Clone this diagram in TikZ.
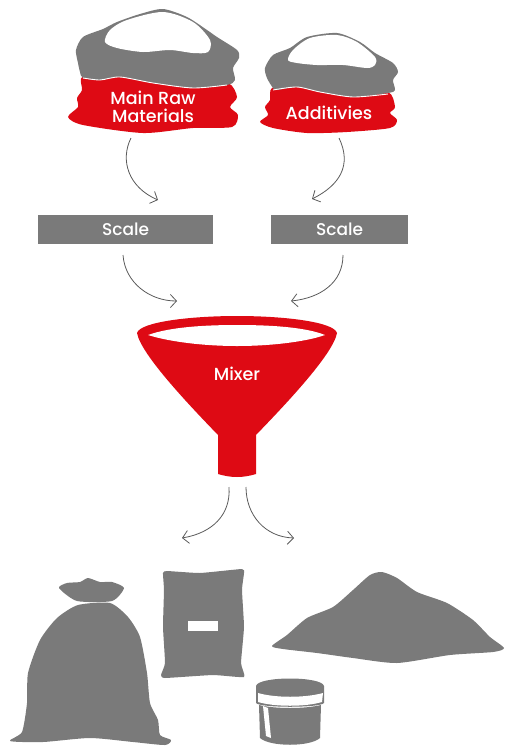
\documentclass[tikz,border=0pt]{standalone}
\usepackage{fontspec}
\setmainfont{Poppins Medium}
\usetikzlibrary{arrows.meta}
\definecolor{sackred}{HTML}{DE0A14}
\definecolor{sackgray}{HTML}{7A7A7A}
\definecolor{flowgray}{HTML}{5A5A5A}
\tikzset{
	redfill/.style={fill=sackred,draw=none},
	grayfill/.style={fill=sackgray,draw=none},
	whitefill/.style={fill=white,draw=none},
	label/.style={text=white,font=\fontsize{17.5}{18.5}\selectfont,align=center,inner sep=0pt},
	scalebox/.style={fill=sackgray,text=white,font=\fontsize{17}{18}\selectfont,minimum height=29pt,inner sep=0pt,anchor=north west},
	flow/.style={draw=flowgray,line width=0.8pt,-{Straight Barb[length=6pt,width=13pt,line width=0.8pt]}}
}
\begin{document}
\begin{tikzpicture}[x=1pt,y=-1pt]
	\useasboundingbox (0,0) rectangle (504,747);
	% big sack
	\fill [redfill] plot [smooth cycle,tension=0.45] coordinates {(83,76) (82,90) (77,98) (78,107) (68,117) (83,125) (143,133) (193,128) (232,127) (238,115) (230,107) (237,97) (228,83) (193,84) (120,74)};
	\fill [grayfill] plot [smooth cycle,tension=0.45] coordinates {(83,78) (80,72) (78,63) (76,50) (83,37) (103,29) (117,22) (140,14) (163,9) (187,17) (207,30) (217,37) (237,50) (239,58) (233,68) (235,80) (227,85) (193,88) (153,83) (120,77) (100,80)};
	\draw [white,line width=0.9pt] plot [smooth,tension=0.45] coordinates {(83,78) (100,80) (120,77) (153,83) (193,88) (227,85)};
	\fill [whitefill] plot [smooth cycle,tension=0.5] coordinates {(105,42) (110,30) (127,20) (163,12) (193,22) (210,40) (208,52) (193,53) (170,50) (143,52) (117,48)};
	% small sack
	\fill [redfill] plot [smooth cycle,tension=0.45] coordinates {(272,88) (270,100) (265,107) (268,115) (260,122) (273,128) (307,133) (347,132) (390,128) (397,120) (390,113) (395,107) (388,92) (353,96) (297,86)};
	\fill [grayfill] plot [smooth cycle,tension=0.45] coordinates {(273,88) (267,78) (265,68) (273,55) (290,48) (307,37) (337,33) (360,42) (375,53) (393,63) (398,72) (393,80) (395,90) (388,93) (353,97) (320,92) (297,87) (277,90)};
	\draw [white,line width=0.9pt] plot [smooth,tension=0.45] coordinates {(273,90) (297,87) (320,92) (353,97) (388,94)};
	\fill [whitefill] plot [smooth cycle,tension=0.5] coordinates {(288,60) (293,50) (310,38) (337,35) (357,42) (375,57) (375,65) (367,68) (343,65) (317,65) (297,63)};
	% labels
	\node [label] (main) at (153,107) {Main Raw\\Materials};
	\node [label] (additives) at (329,113) {Additivies};
	% scales
	\node [scalebox,minimum width=175pt] (scalea) at (38,215) {Scale};
	\node [scalebox,minimum width=137pt] (scaleb) at (271,215) {Scale};
	% funnel
	\fill [redfill] (137,333) .. controls (140,322) and (190,316) .. (237,316) .. controls (285,316) and (334,322) .. (337,333) .. controls (333,355) and (282,408) .. (256,435) -- (256,474) .. controls (243,478) and (231,478) .. (218,474) -- (218,435) .. controls (192,408) and (141,355) .. (137,333) -- cycle;
	\fill [whitefill] (148,335) .. controls (170,327) and (205,325) .. (237,325) .. controls (270,325) and (305,327) .. (325,335) .. controls (305,342) and (270,346) .. (237,346) .. controls (205,346) and (170,342) .. (148,335) -- cycle;
	\node [label] (mixer) at (237,374) {Mixer};
	% flow ends
	\coordinate (mainout) at (131,138);
	\coordinate (scaleain) at (158,200);
	\coordinate (addout) at (339,138);
	\coordinate (scalebin) at (312,199);
	\coordinate (scaleaout) at (123,255);
	\coordinate (mixerina) at (177,301);
	\coordinate (scalebout) at (343,255);
	\coordinate (mixerinb) at (291,301);
	\coordinate (stema) at (229,487);
	\coordinate (outa) at (182,538);
	\coordinate (stemb) at (246,487);
	\coordinate (outb) at (294,538);
	\draw [flow] (mainout) .. controls (120,160) and (128,187) .. (scaleain);
	\draw [flow] (addout) .. controls (352,165) and (340,185) .. (scalebin);
	\draw [flow] (scaleaout) .. controls (125,283) and (150,301) .. (mixerina);
	\draw [flow] (scalebout) .. controls (343,283) and (320,298) .. (mixerinb);
	\draw [flow] (stema) .. controls (231,515) and (212,533) .. (outa);
	\draw [flow] (stemb) .. controls (246,515) and (265,537) .. (outb);
	% tied sack
	\fill [grayfill] plot [smooth cycle,tension=0.4] coordinates {(59,588) (67,583) (80,582) (88,578) (100,582) (112,582) (124,588) (112,601) (77,601)};
	\fill [grayfill] plot [smooth cycle,tension=0.4] coordinates {(78,605) (110,603) (128,617) (140,637) (147,673) (150,703) (158,720) (160,735) (171,740) (165,745) (133,742) (90,738) (43,742) (10,741) (22,732) (27,703) (28,673) (40,640) (57,618)};
	% bag
	\fill [grayfill] plot [smooth cycle,tension=0.25] coordinates {(163,573) (167,571) (200,573) (242,569) (244,573) (242,590) (244,627) (241,663) (244,677) (213,675) (165,678) (161,675) (165,663) (163,627) (164,590)};
	\fill [whitefill] (188,621) rectangle (218,631);
	% pile
	\fill [grayfill] plot [smooth cycle,tension=0.4] coordinates {(272,646) (287,635) (307,618) (333,607) (353,590) (370,575) (382,572) (397,578) (417,592) (447,603) (473,620) (490,637) (504,648) (493,652) (450,655) (397,663) (353,658) (317,653) (283,649)};
	% tub
	\fill [grayfill] (256,686) .. controls (258,676) and (322,676) .. (324,686) -- (324,703) .. controls (320,708) and (260,708) .. (256,703) -- cycle;
	\fill [whitefill] (258,693) .. controls (275,698) and (305,698) .. (323,693) -- (322,702) .. controls (305,707) and (275,707) .. (258,702) -- cycle;
	\fill [grayfill] (259,705) .. controls (275,709) and (305,709) .. (321,705) -- (320,738) .. controls (310,747) and (270,747) .. (260,738) -- cycle;
	\fill [whitefill] (263,706) -- (268,708) -- (271,738) -- (266,736) -- cycle;
\end{tikzpicture}
\end{document}
